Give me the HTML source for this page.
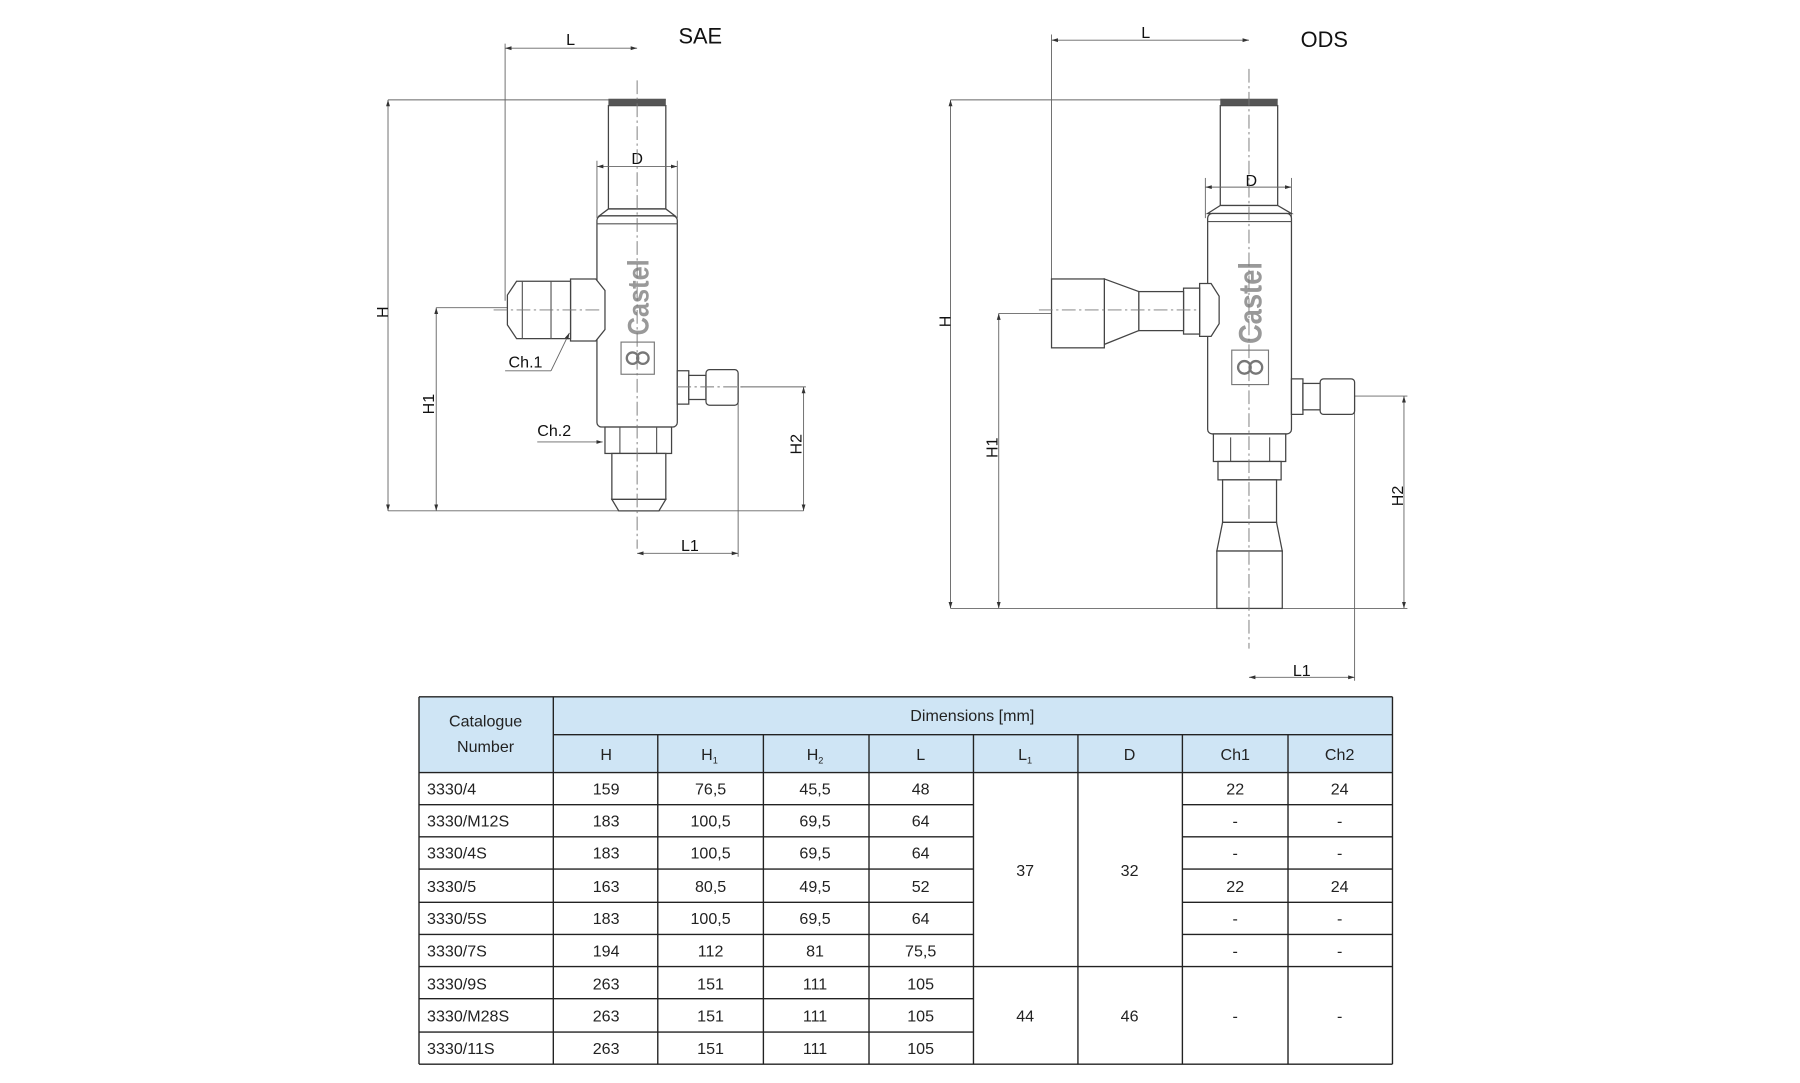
<!DOCTYPE html>
<html><head><meta charset="utf-8"><style>
html,body{margin:0;padding:0;background:#fff;}
svg{display:block;}
.l{stroke:#555;stroke-width:1;fill:none}
.b{stroke:#444;stroke-width:1.1;fill:#fff}
.d{stroke:#666;stroke-width:0.8;fill:none}
.c{stroke:#777;stroke-width:0.8;fill:none;stroke-dasharray:12 3 2 3}
.t{font-family:"Liberation Sans",sans-serif;fill:#111}
.n{font-family:"Liberation Sans Narrow","Liberation Sans",sans-serif;fill:#222;font-size:14px}
.lg{fill:#999;font-family:"Liberation Sans Narrow","Liberation Sans",sans-serif;font-weight:bold}
</style></head><body>
<svg width="1800" height="1083" viewBox="0 0 1568 943.4" xmlns="http://www.w3.org/2000/svg">
<defs>
<marker id="a" viewBox="0 0 10 10" refX="10" refY="5" markerWidth="7" markerHeight="7" orient="auto-start-reverse"><path d="M0,2 L10,5 L0,8 z" fill="#333"/></marker>
</defs>

<!-- ===== SAE ===== -->
<text class="t" x="591" y="38" font-size="19">SAE</text>
<line class="d" x1="338" y1="87" x2="580" y2="87"/>
<line class="d" x1="338" y1="445" x2="700" y2="445"/>
<line class="d" x1="338" y1="87" x2="338" y2="445" marker-start="url(#a)" marker-end="url(#a)"/>
<text class="t" font-size="14" transform="translate(338,272) rotate(-90)" text-anchor="middle">H</text>
<line class="d" x1="380" y1="268" x2="500" y2="268"/>
<line class="d" x1="380" y1="268" x2="380" y2="445" marker-start="url(#a)" marker-end="url(#a)"/>
<text class="t" font-size="14" transform="translate(378,352) rotate(-90)" text-anchor="middle">H1</text>
<line class="d" x1="645" y1="337" x2="702" y2="337"/>
<line class="d" x1="700" y1="337" x2="700" y2="445" marker-start="url(#a)" marker-end="url(#a)"/>
<text class="t" font-size="14" transform="translate(698,387) rotate(-90)" text-anchor="middle">H2</text>
<line class="d" x1="440" y1="38" x2="440" y2="262"/>
<line class="d" x1="440" y1="42" x2="555" y2="42" marker-start="url(#a)" marker-end="url(#a)"/>
<text class="t" x="497" y="39" font-size="14" text-anchor="middle">L</text>
<line class="d" x1="643" y1="340" x2="643" y2="485"/>
<line class="d" x1="555" y1="482" x2="643" y2="482" marker-start="url(#a)" marker-end="url(#a)"/>
<text class="t" x="601" y="480" font-size="14" text-anchor="middle">L1</text>
<line class="d" x1="520" y1="140" x2="520" y2="190"/>
<line class="d" x1="590" y1="140" x2="590" y2="190"/>
<!-- body -->
<rect class="b" x="530" y="92" width="50" height="90"/>
<rect x="530" y="86" width="50" height="6" fill="#555"/>
<path class="b" d="M530,182 L522,188 L588,188 L580,182 Z"/>
<rect class="b" x="520" y="188" width="70" height="184" rx="4"/>
<line class="l" x1="520" y1="195" x2="590" y2="195"/>
<line class="d" x1="520" y1="145" x2="590" y2="145" marker-start="url(#a)" marker-end="url(#a)"/>
<text class="t" x="555" y="143" font-size="14" text-anchor="middle">D</text>
<path class="b" d="M497,243 L519,243 L527,253 L527,287 L519,297 L497,297 Z"/>
<path class="b" d="M450,245 L497,245 L497,295 L450,295 L442,283 L442,257 Z"/>
<line class="l" x1="455" y1="245" x2="455" y2="295"/>
<line class="l" x1="480" y1="245" x2="480" y2="295"/>
<path class="b" d="M590,323 L600,323 L600,352 L590,352 Z"/>
<rect class="b" x="600" y="327" width="15" height="21"/>
<rect class="b" x="615" y="322" width="28" height="31" rx="3"/>
<rect class="b" x="527" y="372" width="58" height="23"/>
<line class="l" x1="540" y1="372" x2="540" y2="395"/><line class="l" x1="572" y1="372" x2="572" y2="395"/>
<rect class="b" x="533" y="395" width="47" height="40"/>
<path class="b" d="M533,435 L580,435 L574,445 L539,445 Z"/>
<text class="lg" font-size="26" transform="translate(565,259) rotate(-90) scale(0.85,1)" text-anchor="middle">Castel</text>
<rect x="541" y="298" width="29" height="28" fill="none" stroke="#777"/>
<circle cx="551" cy="312" r="5" fill="none" stroke="#777" stroke-width="2"/><circle cx="560" cy="312" r="5" fill="none" stroke="#777" stroke-width="2"/>
<line class="c" x1="555" y1="70" x2="555" y2="478"/>
<line class="c" x1="430" y1="270" x2="525" y2="270"/>
<line class="c" x1="590" y1="337" x2="650" y2="337"/>
<text class="t" x="443" y="320" font-size="14">Ch.1</text>
<line class="d" x1="440" y1="323" x2="480" y2="323"/>
<line class="d" x1="480" y1="323" x2="496" y2="290" marker-end="url(#a)"/>
<text class="t" x="468" y="380" font-size="14">Ch.2</text>
<line class="d" x1="468" y1="385" x2="525" y2="385" marker-end="url(#a)"/>

<!-- ===== ODS ===== -->
<text class="t" x="1133" y="41" font-size="19">ODS</text>
<line class="d" x1="828" y1="87" x2="1113" y2="87"/>
<line class="d" x1="828" y1="530" x2="1226" y2="530"/>
<line class="d" x1="828" y1="87" x2="828" y2="530" marker-start="url(#a)" marker-end="url(#a)"/>
<text class="t" font-size="14" transform="translate(828,280) rotate(-90)" text-anchor="middle">H</text>
<line class="d" x1="870" y1="273" x2="1045" y2="273"/>
<line class="d" x1="870" y1="273" x2="870" y2="530" marker-start="url(#a)" marker-end="url(#a)"/>
<text class="t" font-size="14" transform="translate(869,390) rotate(-90)" text-anchor="middle">H1</text>
<line class="d" x1="1180" y1="345" x2="1226" y2="345"/>
<line class="d" x1="1223" y1="345" x2="1223" y2="530" marker-start="url(#a)" marker-end="url(#a)"/>
<text class="t" font-size="14" transform="translate(1222,432) rotate(-90)" text-anchor="middle">H2</text>
<line class="d" x1="916" y1="30" x2="916" y2="245"/>
<line class="d" x1="916" y1="35" x2="1088" y2="35" marker-start="url(#a)" marker-end="url(#a)"/>
<text class="t" x="998" y="33" font-size="14" text-anchor="middle">L</text>
<line class="d" x1="1180" y1="345" x2="1180" y2="593"/>
<line class="d" x1="1088" y1="590" x2="1180" y2="590" marker-start="url(#a)" marker-end="url(#a)"/>
<text class="t" x="1134" y="589" font-size="14" text-anchor="middle">L1</text>
<line class="d" x1="1050" y1="155" x2="1050" y2="190"/>
<line class="d" x1="1125" y1="155" x2="1125" y2="190"/>
<rect class="b" x="1063" y="92" width="50" height="87"/>
<rect x="1063" y="86" width="50" height="6" fill="#555"/>
<path class="b" d="M1063,179 L1052,186 L1125,186 L1113,179 Z"/>
<rect class="b" x="1052" y="186" width="73" height="192" rx="4"/>
<line class="l" x1="1052" y1="193" x2="1125" y2="193"/>
<line class="d" x1="1050" y1="163" x2="1125" y2="163" marker-start="url(#a)" marker-end="url(#a)"/>
<text class="t" x="1090" y="162" font-size="14" text-anchor="middle">D</text>
<path class="b" d="M1045,247 L1055,247 L1062,258 L1062,282 L1055,293 L1045,293 Z"/>
<rect class="b" x="1031" y="251" width="14" height="40"/>
<rect class="b" x="992" y="254" width="39" height="34"/>
<path class="b" d="M962,243 L992,254 L992,288 L962,300 Z"/>
<rect class="b" x="916" y="243" width="46" height="60"/>
<path class="b" d="M1125,330 L1135,330 L1135,361 L1125,361 Z"/>
<rect class="b" x="1135" y="334" width="15" height="23"/>
<rect class="b" x="1150" y="330" width="30" height="31" rx="3"/>
<rect class="b" x="1057" y="378" width="63" height="24"/>
<line class="l" x1="1072" y1="381" x2="1072" y2="402"/><line class="l" x1="1106" y1="381" x2="1106" y2="402"/>
<rect class="b" x="1061" y="402" width="55" height="16"/>
<rect class="b" x="1065" y="418" width="47" height="37"/>
<path class="b" d="M1065,455 L1112,455 L1117,480 L1060,480 Z"/>
<rect class="b" x="1060" y="480" width="57" height="50"/>
<text class="lg" font-size="28" transform="translate(1099,264) rotate(-90) scale(0.85,1)" text-anchor="middle">Castel</text>
<rect x="1073" y="305" width="32" height="30" fill="none" stroke="#777"/>
<circle cx="1084" cy="320" r="5.5" fill="none" stroke="#777" stroke-width="2"/><circle cx="1094" cy="320" r="5.5" fill="none" stroke="#777" stroke-width="2"/>
<line class="c" x1="1088" y1="60" x2="1088" y2="565"/>
<line class="c" x1="905" y1="270" x2="1045" y2="270"/>

<!-- ===== TABLE ===== -->
<rect x="365" y="607" width="848" height="66" fill="#cfe5f5"/>
<g stroke="#222" stroke-width="1.2">
<line x1="365" y1="607" x2="1213" y2="607"/>
<line x1="482" y1="640" x2="1213" y2="640"/>
<line x1="365" y1="673" x2="1213" y2="673"/>
<line x1="365" y1="927" x2="1213" y2="927"/>
<line x1="365" y1="607" x2="365" y2="927"/>
<line x1="482" y1="607" x2="482" y2="927"/>
<line x1="1213" y1="607" x2="1213" y2="927"/>
<line x1="573" y1="640" x2="573" y2="927"/>
<line x1="665" y1="640" x2="665" y2="927"/>
<line x1="757" y1="640" x2="757" y2="927"/>
<line x1="848" y1="640" x2="848" y2="927"/>
<line x1="939" y1="640" x2="939" y2="927"/>
<line x1="1030" y1="640" x2="1030" y2="927"/>
<line x1="1122" y1="640" x2="1122" y2="927"/>
<line x1="365" y1="701" x2="848" y2="701"/><line x1="1030" y1="701" x2="1213" y2="701"/>
<line x1="365" y1="729" x2="848" y2="729"/><line x1="1030" y1="729" x2="1213" y2="729"/>
<line x1="365" y1="757" x2="848" y2="757"/><line x1="1030" y1="757" x2="1213" y2="757"/>
<line x1="365" y1="786" x2="848" y2="786"/><line x1="1030" y1="786" x2="1213" y2="786"/>
<line x1="365" y1="814" x2="848" y2="814"/><line x1="1030" y1="814" x2="1213" y2="814"/>
<line x1="365" y1="842" x2="1213" y2="842"/>
<line x1="365" y1="870" x2="848" y2="870"/>
<line x1="365" y1="899" x2="848" y2="899"/>
</g>
<g class="n" text-anchor="middle">
<text x="423" y="633">Catalogue</text>
<text x="423" y="655">Number</text>
<text x="847" y="628">Dimensions [mm]</text>
<text x="528" y="662">H</text>
<text x="618" y="662">H<tspan font-size="8" dy="3">1</tspan></text>
<text x="710" y="662">H<tspan font-size="8" dy="3">2</tspan></text>
<text x="802" y="662">L</text>
<text x="893" y="662">L<tspan font-size="8" dy="3">1</tspan></text>
<text x="984" y="662">D</text>
<text x="1076" y="662">Ch1</text>
<text x="1167" y="662">Ch2</text>
</g>
<g class="n">
<text x="372" y="692">3330/4</text>
<text x="372" y="720">3330/M12S</text>
<text x="372" y="748">3330/4S</text>
<text x="372" y="777">3330/5</text>
<text x="372" y="805">3330/5S</text>
<text x="372" y="833">3330/7S</text>
<text x="372" y="862">3330/9S</text>
<text x="372" y="890">3330/M28S</text>
<text x="372" y="918">3330/11S</text>
</g>
<g class="n" text-anchor="middle">
<text x="528" y="692">159</text><text x="619" y="692">76,5</text><text x="710" y="692">45,5</text><text x="802" y="692">48</text><text x="1076" y="692">22</text><text x="1167" y="692">24</text>
<text x="528" y="720">183</text><text x="619" y="720">100,5</text><text x="710" y="720">69,5</text><text x="802" y="720">64</text><text x="1076" y="720">-</text><text x="1167" y="720">-</text>
<text x="528" y="748">183</text><text x="619" y="748">100,5</text><text x="710" y="748">69,5</text><text x="802" y="748">64</text><text x="1076" y="748">-</text><text x="1167" y="748">-</text>
<text x="528" y="777">163</text><text x="619" y="777">80,5</text><text x="710" y="777">49,5</text><text x="802" y="777">52</text><text x="1076" y="777">22</text><text x="1167" y="777">24</text>
<text x="528" y="805">183</text><text x="619" y="805">100,5</text><text x="710" y="805">69,5</text><text x="802" y="805">64</text><text x="1076" y="805">-</text><text x="1167" y="805">-</text>
<text x="528" y="833">194</text><text x="619" y="833">112</text><text x="710" y="833">81</text><text x="802" y="833">75,5</text><text x="1076" y="833">-</text><text x="1167" y="833">-</text>
<text x="528" y="862">263</text><text x="619" y="862">151</text><text x="710" y="862">111</text><text x="802" y="862">105</text>
<text x="528" y="890">263</text><text x="619" y="890">151</text><text x="710" y="890">111</text><text x="802" y="890">105</text>
<text x="528" y="918">263</text><text x="619" y="918">151</text><text x="710" y="918">111</text><text x="802" y="918">105</text>
<text x="893" y="763">37</text><text x="984" y="763">32</text>
<text x="893" y="890">44</text><text x="984" y="890">46</text><text x="1076" y="890">-</text><text x="1167" y="890">-</text>
</g>
</svg>
</body></html>
